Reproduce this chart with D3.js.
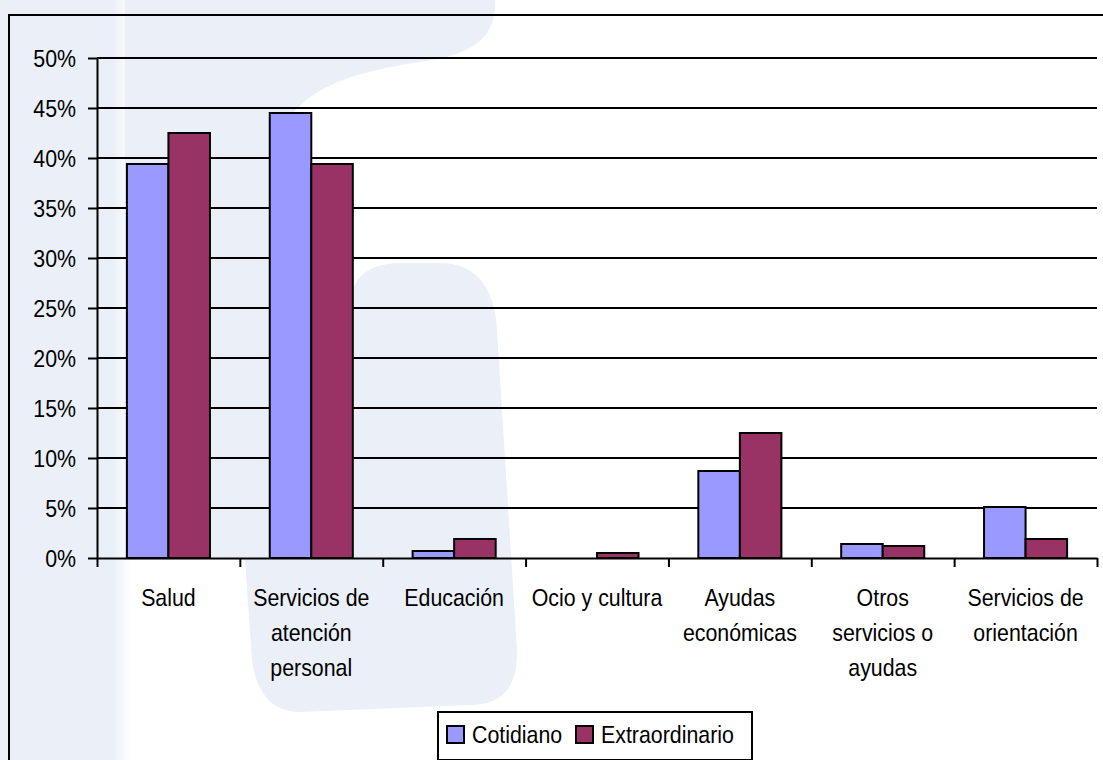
<!DOCTYPE html>
<html>
<head>
<meta charset="utf-8">
<script src="https://cdn.jsdelivr.net/npm/d3@7/dist/d3.min.js"></script>
<style>
  html, body { margin: 0; padding: 0; background: #fff; }
  svg { display: block; }
  text { font-family: "Liberation Sans", Arial, sans-serif; fill: #000; }
</style>
</head>
<body>
<svg id="chart" width="1103" height="760"></svg>
<script>
const categories = [
  ["Salud"],
  ["Servicios de", "atención", "personal"],
  ["Educación"],
  ["Ocio y cultura"],
  ["Ayudas", "económicas"],
  ["Otros", "servicios o", "ayudas"],
  ["Servicios de", "orientación"]
];
const seriesNames = ["Cotidiano", "Extraordinario"];
const cotidiano = [39.4, 44.5, 0.7, 0, 8.7, 1.4, 5.1];
const extraordinario = [42.5, 39.4, 1.9, 0.5, 12.5, 1.2, 1.9];
const yTicks = [0, 5, 10, 15, 20, 25, 30, 35, 40, 45, 50];
const colors = ["#9999FF", "#993366"];

const svg = d3.select("#chart");
const W = 1103, H = 760;
const SX = 0.89;

// watermark background
const wm = "#EAEFF8";
const defs = svg.append("defs");
const lg = defs.append("linearGradient").attr("id", "fadeL").attr("x1", 0).attr("x2", 1).attr("y1", 0).attr("y2", 0);
lg.append("stop").attr("offset", "0%").attr("stop-color", wm);
lg.append("stop").attr("offset", "85%").attr("stop-color", wm);
lg.append("stop").attr("offset", "100%").attr("stop-color", "#fff");
svg.append("rect").attr("width", W).attr("height", H).attr("fill", "#fff");
svg.append("rect").attr("x", 0).attr("y", 0).attr("width", 132).attr("height", H).attr("fill", "url(#fadeL)");
svg.append("path").attr("fill", wm)
  .attr("d", "M0,0 H495 C497,40 470,55 420,62 C330,75 285,100 278,150 L275,505 C272,540 258,556 240,560 L125,560 L125,0 Z");
svg.append("path").attr("fill", wm)
  .attr("d", "M352,300 C352,275 372,263 402,263 L440,263 C478,263 495,290 497,330 L517,650 C518,690 500,705 470,705 L300,712 C270,712 256,690 252,660 L245,560 C250,540 268,530 275,505 Z");

const M = { left: 97, right: 1097, top: 58, bottom: 558 };

const x0 = d3.scaleBand().domain(d3.range(categories.length)).range([M.left, M.right]).padding(0);
const x1 = d3.scaleBand().domain(seriesNames).range([0, x0.bandwidth()]).paddingInner(0).paddingOuter(0.72);
const y = d3.scaleLinear().domain([0, 50]).range([M.bottom, M.top]);

// gridlines
svg.append("g").selectAll("line").data(yTicks.filter(d => d > 0)).join("line")
  .attr("x1", M.left).attr("x2", M.right)
  .attr("y1", d => y(d)).attr("y2", d => y(d))
  .attr("stroke", "#000").attr("stroke-width", 2);

// bars
const data = categories.map((c, i) => ({ i, values: [cotidiano[i], extraordinario[i]] }));
const groups = svg.append("g").selectAll("g").data(data).join("g")
  .attr("transform", d => `translate(${x0(d.i)},0)`);
groups.selectAll("rect").data(d => d.values.map((v, k) => ({ v, k }))).join("rect")
  .attr("x", d => x1(seriesNames[d.k]))
  .attr("width", x1.bandwidth())
  .attr("y", d => y(d.v))
  .attr("height", d => y(0) - y(d.v))
  .attr("fill", d => colors[d.k])
  .attr("stroke", "#000").attr("stroke-width", 2);

// y axis
const yAxis = svg.append("g").attr("transform", `translate(${M.left},0)`)
  .call(d3.axisLeft(y).tickValues(yTicks).tickFormat(d => d + "%").tickSize(9).tickSizeOuter(0).tickPadding(12));
yAxis.selectAll("path, line").attr("stroke", "#000").attr("stroke-width", 2);
yAxis.selectAll("text")
  .attr("font-family", "Liberation Sans, Arial, sans-serif")
  .attr("font-size", 24)
  .attr("fill", "#000")
  .attr("x", -21 / SX)
  .attr("dy", "0.36em")
  .attr("transform", `scale(${SX},1)`);

// x axis
const xb = d3.scaleLinear().domain([0, categories.length]).range([M.left, M.right]);
const xAxis = svg.append("g").attr("transform", `translate(0,${M.bottom})`)
  .call(d3.axisBottom(xb).tickValues(d3.range(categories.length + 1)).tickFormat("").tickSize(9).tickSizeOuter(0));
xAxis.selectAll("path, line").attr("stroke", "#000").attr("stroke-width", 2);

// x labels
const lab = svg.append("g").selectAll("g").data(categories).join("g")
  .attr("transform", (d, i) => `translate(${x0(i) + x0.bandwidth() / 2},606)`);
lab.append("text")
  .attr("font-size", 24)
  .attr("text-anchor", "middle")
  .attr("transform", `scale(${SX},1)`)
  .selectAll("tspan").data(d => d).join("tspan")
  .attr("x", 0)
  .attr("y", (d, j) => j * 35)
  .text(d => d);

// legend
const leg = svg.append("g");
leg.append("rect").attr("x", 438).attr("y", 712).attr("width", 314).attr("height", 48)
  .attr("fill", "#fff").attr("stroke", "#000").attr("stroke-width", 2);
const legX = [447, 576];
seriesNames.forEach((s, k) => {
  leg.append("rect").attr("x", legX[k]).attr("y", 726).attr("width", 17).attr("height", 17)
    .attr("fill", colors[k]).attr("stroke", "#000").attr("stroke-width", 2);
  leg.append("g").attr("transform", `translate(${legX[k] + 25},743)`)
    .append("text").attr("font-size", 24).attr("transform", `scale(${SX},1)`).text(s);
});

// outer border
svg.append("rect").attr("x", 9).attr("y", 15).attr("width", 1110).attr("height", 760)
  .attr("fill", "none").attr("stroke", "#000").attr("stroke-width", 2);
</script>
</body>
</html>
